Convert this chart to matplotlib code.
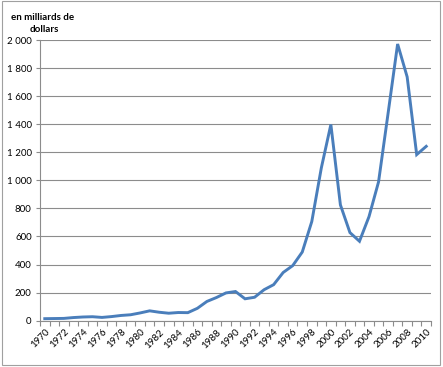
import matplotlib.pyplot as plt
from matplotlib.patches import Rectangle
import numpy as np

plt.rcParams['font.family'] = ['Lato', 'DejaVu Sans']

years = list(range(1970, 2011))
# flux mondiaux, en milliards de dollars
values = [13, 14, 15, 21, 25, 27, 22, 28, 36, 41,
          54, 69, 59, 52, 57, 56, 87, 136, 164, 197,
          207, 155, 166, 220, 256, 343, 392, 489, 707, 1090,
          1400, 826, 628, 566, 742, 990, 1480, 1975, 1740, 1185,
          1244]
y_ticks = [0, 200, 400, 600, 800, 1000, 1200, 1400, 1600, 1800, 2000]
y_labels = ["0", "200", "400", "600", "800", "1 000", "1 200", "1 400",
            "1 600", "1 800", "2 000"]

fig = plt.figure(figsize=(4.43, 3.67), dpi=100)
ax = fig.add_axes([40 / 443, 1 - 320.5 / 367, 391 / 443, 280 / 367])

x = np.arange(len(years))
ax.plot(x, values, color="#4A7EBB", lw=2.1, solid_joinstyle="miter")

ax.set_xlim(-0.5, len(years) - 0.5)
ax.set_ylim(0, 2000)
ax.set_yticks(y_ticks)
ax.set_yticklabels(y_labels, fontsize=7)
ax.yaxis.grid(True, color="#8c8c8c", lw=0.8)
ax.set_axisbelow(True)

# labels every 2 years, tick marks between categories
ax.set_xticks(x[::2])
ax.set_xticklabels([str(y) for y in years[::2]], rotation=45, ha="right",
                   va="top", rotation_mode="anchor", fontsize=7)
ax.tick_params(axis="x", which="major", length=0, pad=5)
ax.set_xticks(np.arange(-0.5, len(years)), minor=True)
ax.tick_params(axis="x", which="minor", length=3.5, color="#8c8c8c", width=0.8)
ax.tick_params(axis="y", length=3, color="#8c8c8c", width=0.8, pad=3)

for s in ["top", "right"]:
    ax.spines[s].set_visible(False)
for s in ["left", "bottom"]:
    ax.spines[s].set_color("#8c8c8c")
    ax.spines[s].set_linewidth(0.8)

fig.text(43 / 443, 1 - 17 / 367, "en milliards de", ha="center", va="center",
         fontsize=7, fontweight="bold")
fig.text(44 / 443, 1 - 29 / 367, "dollars", ha="center", va="center",
         fontsize=7, fontweight="bold")

# chart border
fig.patches.append(Rectangle((2 / 443, 2 / 367), 438 / 443, 364 / 367,
                             transform=fig.transFigure, fill=False,
                             edgecolor="#a0a0a0", lw=0.8))

fig.savefig("out.png", dpi=100)
